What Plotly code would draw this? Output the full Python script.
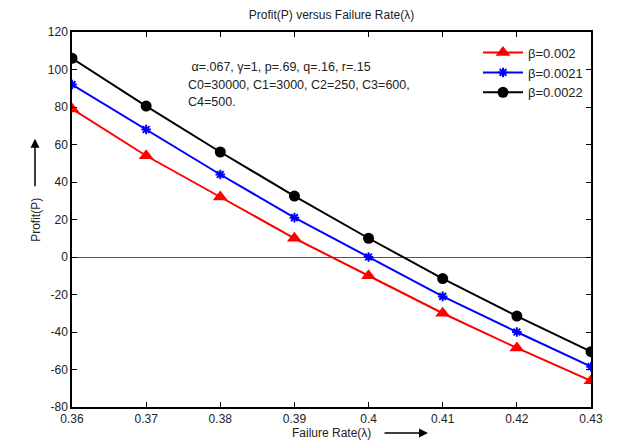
import plotly.graph_objects as go

# failure rate (lambda) on the x axis
failure_rate = [0.36, 0.37, 0.38, 0.39, 0.40, 0.41, 0.42, 0.43]

# profit for the three beta values
profit_b0020 = [79, 54, 32, 10, -10, -30, -48.5, -66]
profit_b0021 = [92, 68, 44, 21, 0, -21, -40, -58.5]
profit_b0022 = [106, 80.5, 56, 32.5, 10, -11.5, -31.5, -50.5]

x_ticks = [0.36, 0.37, 0.38, 0.39, 0.40, 0.41, 0.42, 0.43]
x_tick_text = ["0.36", "0.37", "0.38", "0.39", "0.4", "0.41", "0.42", "0.43"]
y_ticks = [-80, -60, -40, -20, 0, 20, 40, 60, 80, 100, 120]
y_tick_text = ["-80", "-60", "-40", "-20", "0", "20", "40", "60", "80", "100", "120"]

param_lines = [" \u03b1=.067, \u03b3=1, p=.69, q=.16, r=.15",
               "C0=30000, C1=3000, C2=250, C3=600,",
               "C4=500."]

FONT = "Liberation Sans, Arial, sans-serif"

fig = go.Figure()
fig.add_trace(go.Scatter(x=failure_rate, y=profit_b0020, mode="lines+markers",
                         name="\u03b2=0.002",
                         line=dict(color="#ff0000", width=2),
                         marker=dict(symbol="triangle-up", size=13, color="#ff0000")))
fig.add_trace(go.Scatter(x=failure_rate, y=profit_b0021, mode="lines+markers",
                         name="\u03b2=0.0021",
                         line=dict(color="#0000ff", width=2),
                         marker=dict(symbol="asterisk-open", size=8,
                                     line=dict(color="#0000ff", width=2))))
fig.add_trace(go.Scatter(x=failure_rate, y=profit_b0022, mode="lines+markers",
                         name="\u03b2=0.0022",
                         line=dict(color="#000000", width=2),
                         marker=dict(symbol="circle", size=11, color="#000000")))

# paper coords helpers: plot spans x 72..591 px, y 32..407 px (screen)
def px(X):
    return (X - 72) / 519.0

def py(Y):
    return (407 - Y) / 374.6

for i, line in enumerate(param_lines):
    fig.add_annotation(xref="paper", yref="paper", x=px(186), y=py(67.5 + 17.5 * i),
                       xanchor="left", yanchor="middle", align="left", showarrow=False,
                       text=line, font=dict(size=12.5, color="#222222"))

# axis labels with arrows
fig.add_annotation(xref="paper", yref="paper", x=px(35), y=py(220), xshift=-8,
                   text="Profit(P)", textangle=-90, showarrow=False,
                   font=dict(size=12, color="#222222"))
fig.add_annotation(xref="paper", yref="paper", x=px(35), y=py(139),
                   text="", showarrow=True, ax=0, ay=49,
                   arrowhead=2, arrowsize=1.2, arrowwidth=1.5, arrowcolor="black")
fig.add_annotation(xref="paper", yref="paper", x=px(331), y=py(432), yshift=-10,
                   text="Failure Rate(\u03bb)", showarrow=False,
                   font=dict(size=12, color="#222222"))
fig.add_annotation(xref="paper", yref="paper", x=px(428), y=py(433),
                   text="", showarrow=True, ax=-45, ay=0,
                   arrowhead=2, arrowsize=1.2, arrowwidth=1.5, arrowcolor="black")

# the page body adds an 8px offset, so margins are shifted by -8
fig.update_layout(
    width=621, height=446,
    margin=dict(l=64, r=38, t=24, b=47),
    paper_bgcolor="white", plot_bgcolor="white",
    font=dict(family=FONT, size=12, color="#222222"),
    title=dict(text="Profit(P) versus Failure Rate(\u03bb)", x=0.5, xref="paper",
               xanchor="center", y=1 - 7 / 446, yanchor="middle", font=dict(size=12)),
    legend=dict(x=px(478), y=py(38), xanchor="left", yanchor="top",
                bgcolor="rgba(255,255,255,0)", font=dict(size=13),
                tracegroupgap=0, itemwidth=40),
    showlegend=True,
)
fig.update_xaxes(range=[0.36, 0.43], tickvals=x_ticks, ticktext=x_tick_text,
                 showgrid=False, zeroline=False, showline=True, linecolor="black",
                 linewidth=1.5, mirror="ticks", ticks="inside", ticklen=5,
                 tickcolor="black")
fig.update_yaxes(range=[-80, 120], tickvals=y_ticks, ticktext=y_tick_text,
                 showgrid=False, zeroline=True, zerolinecolor="#555555", zerolinewidth=1,
                 showline=True, linecolor="black", linewidth=1.5, mirror="ticks",
                 ticks="inside", ticklen=5, tickcolor="black")

fig.write_html("out.html")
